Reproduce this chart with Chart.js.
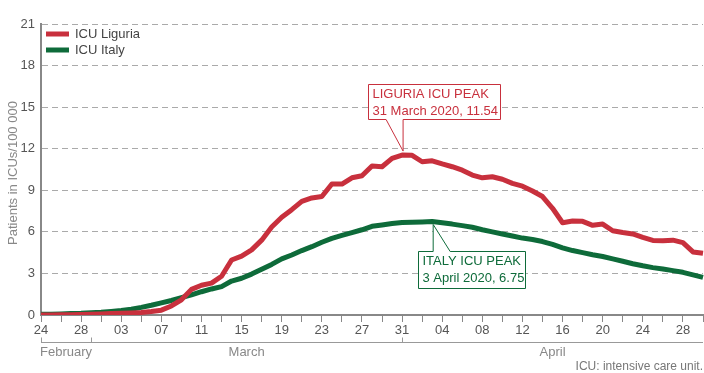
<!DOCTYPE html>
<html>
<head>
<meta charset="utf-8">
<script src="https://cdn.jsdelivr.net/npm/chart.js@4.4.1/dist/chart.umd.min.js"></script>
<style>
  html, body { margin: 0; padding: 0; background: #fff; }
  canvas { display: block; }
</style>
</head>
<body>
<canvas id="graficoIcu" width="704" height="373"></canvas>
<script>
// dias de 24 fev a 30 abr 2020
const inicio = Date.UTC(2020, 1, 24);
const numDias = 67;
const nomesMeses = ["January", "February", "March", "April"];

const icuLiguria = [
  0.0, 0.0, 0.01, 0.02, 0.04, 0.06, 0.08, 0.10, 0.12, 0.15,
  0.18, 0.25, 0.35, 0.65, 1.10, 1.85, 2.15, 2.30, 2.80, 3.97,
  4.25, 4.70, 5.40, 6.35, 7.05, 7.60, 8.20, 8.45, 8.55, 9.45,
  9.45, 9.90, 10.05, 10.75, 10.70, 11.30, 11.54, 11.52, 11.06, 11.13,
  10.90, 10.70, 10.45, 10.10, 9.90, 9.98, 9.80, 9.50, 9.30, 8.95,
  8.55, 7.70, 6.66, 6.78, 6.76, 6.47, 6.56, 6.08, 5.95, 5.85,
  5.60, 5.38, 5.36, 5.40, 5.22, 4.55, 4.45
];

const icuItalia = [
  0.05, 0.06, 0.08, 0.10, 0.12, 0.16, 0.20, 0.26, 0.33, 0.42,
  0.55, 0.70, 0.88, 1.05, 1.25, 1.45, 1.68, 1.88, 2.05, 2.45,
  2.65, 2.95, 3.30, 3.65, 4.05, 4.33, 4.65, 4.93, 5.25, 5.53,
  5.75, 5.95, 6.15, 6.40, 6.50, 6.60, 6.68, 6.70, 6.72, 6.75,
  6.65, 6.56, 6.45, 6.33, 6.15, 6.00, 5.85, 5.70, 5.55, 5.45,
  5.30, 5.10, 4.85, 4.65, 4.50, 4.35, 4.22, 4.05, 3.88, 3.70,
  3.55, 3.42, 3.32, 3.20, 3.08, 2.90, 2.72
];

const yTicks = [0, 3, 6, 9, 12, 15, 18, 21];
const tituloY = "Patients in ICUs/100 000";
const nota = "ICU: intensive care unit.";

const VERMELHO = "#c8303d";
const VERDE = "#0e6b3a";
const FONTE = '"Liberation Sans", Arial, sans-serif';

const datas = [];
for (let i = 0; i < numDias; i++) datas.push(new Date(inicio + i * 86400000));
const dias = datas.map(d => String(d.getUTCDate()).padStart(2, "0"));

function indicePico(serie) {
  let k = 0;
  serie.forEach((v, i) => { if (v > serie[k]) k = i; });
  return k;
}

function textoPico(serie) {
  const k = indicePico(serie);
  const d = datas[k];
  return d.getUTCDate() + " " + nomesMeses[d.getUTCMonth()] + " 2020, " + serie[k].toFixed(2);
}

// caixa com ponteiro ate o ponto do pico
function balao(ctx, cor, linhas, left, top, w, h, base1, base2, tip, emBaixo) {
  const right = left + w, bottom = top + h;
  ctx.save();
  ctx.beginPath();
  ctx.moveTo(left, top);
  if (!emBaixo) {
    ctx.lineTo(base1, top);
    ctx.lineTo(tip.x, tip.y);
    ctx.lineTo(base2, top);
  }
  ctx.lineTo(right, top);
  ctx.lineTo(right, bottom);
  if (emBaixo) {
    ctx.lineTo(base2, bottom);
    ctx.lineTo(tip.x, tip.y);
    ctx.lineTo(base1, bottom);
  }
  ctx.lineTo(left, bottom);
  ctx.closePath();
  ctx.fillStyle = "#fff";
  ctx.fill();
  ctx.strokeStyle = cor;
  ctx.lineWidth = 1;
  ctx.stroke();
  ctx.fillStyle = cor;
  ctx.font = "13px " + FONTE;
  ctx.textAlign = "left";
  ctx.textBaseline = "middle";
  ctx.fillText(linhas[0], left + 4, top + 10);
  ctx.fillText(linhas[1], left + 4, top + 27);
  ctx.restore();
}

const decoracoes = {
  id: "decoracoes",
  afterDatasetsDraw(chart) {
    const { ctx, scales: { x, y } } = chart;

    // pico Liguria
    const kL = indicePico(icuLiguria);
    const pxL = x.getPixelForValue(kL), pyL = y.getPixelForValue(icuLiguria[kL]);
    balao(ctx, VERMELHO, ["LIGURIA ICU PEAK", textoPico(icuLiguria)],
      Math.round(pxL) - 33.5, Math.round(pyL) - 70.5, 132, 35,
      pxL - 16, pxL + 1, { x: pxL + 1, y: pyL - 4 }, true);

    // pico Italia
    const kI = indicePico(icuItalia);
    const pxI = x.getPixelForValue(kI), pyI = y.getPixelForValue(icuItalia[kI]);
    balao(ctx, VERDE, ["ITALY ICU PEAK", textoPico(icuItalia)],
      Math.round(pxI) - 13.5, Math.round(pyI) + 30.5, 107, 37,
      pxI + 1, pxI + 18, { x: pxI + 1, y: pyI + 3 }, false);
  },
  afterDraw(chart) {
    const { ctx, chartArea, scales: { x } } = chart;
    ctx.save();

    // titulo do eixo y
    ctx.save();
    ctx.translate(13, 173);
    ctx.rotate(-Math.PI / 2);
    ctx.fillStyle = "#888";
    ctx.font = "13px " + FONTE;
    ctx.textAlign = "center";
    ctx.textBaseline = "middle";
    ctx.fillText(tituloY, 0, 0);
    ctx.restore();

    // legenda
    const legenda = [["ICU Liguria", VERMELHO], ["ICU Italy", VERDE]];
    ctx.font = "13px " + FONTE;
    ctx.textBaseline = "middle";
    ctx.textAlign = "left";
    legenda.forEach(([txt, cor], i) => {
      const yy = 34 + i * 16;
      ctx.strokeStyle = cor;
      ctx.lineWidth = 5;
      ctx.beginPath();
      ctx.moveTo(46, yy);
      ctx.lineTo(69, yy);
      ctx.stroke();
      ctx.fillStyle = "#444";
      ctx.fillText(txt, 75, yy);
    });

    // chaves dos meses
    const grupos = [];
    datas.forEach((d, i) => {
      const m = d.getUTCMonth();
      const g = grupos[grupos.length - 1];
      if (!g || g.mes !== m) grupos.push({ mes: m, ini: i, fim: i });
      else g.fim = i;
    });
    const yLinha = 342.5;
    ctx.strokeStyle = "#999";
    ctx.lineWidth = 1;
    ctx.beginPath();
    ctx.moveTo(chartArea.left, yLinha);
    ctx.lineTo(chartArea.right, yLinha);
    const marcas = [x.getPixelForValue(0)];
    grupos.slice(0, -1).forEach(g => marcas.push(x.getPixelForValue(g.fim)));
    marcas.forEach(px => {
      ctx.moveTo(Math.round(px) + 0.5, yLinha - 5);
      ctx.lineTo(Math.round(px) + 0.5, yLinha);
    });
    ctx.stroke();

    ctx.fillStyle = "#888";
    ctx.font = "13px " + FONTE;
    ctx.textAlign = "center";
    grupos.forEach((g, i) => {
      const a = marcas[i];
      const b = i + 1 < marcas.length ? marcas[i + 1] : chartArea.right;
      ctx.fillText(nomesMeses[g.mes], (a + b) / 2, 352);
    });

    // nota
    ctx.fillStyle = "#777";
    ctx.font = "12px " + FONTE;
    ctx.textAlign = "right";
    ctx.fillText(nota, 703, 367);
    ctx.restore();
  }
};

const ctx = document.getElementById("graficoIcu").getContext("2d");

new Chart(ctx, {
  type: "line",
  data: {
    labels: dias,
    datasets: [
      {
        label: "ICU Liguria",
        data: icuLiguria,
        borderColor: VERMELHO,
        borderWidth: 5,
        pointRadius: 0,
        borderJoinStyle: "round",
        tension: 0
      },
      {
        label: "ICU Italy",
        data: icuItalia,
        borderColor: VERDE,
        borderWidth: 5,
        pointRadius: 0,
        borderJoinStyle: "round",
        tension: 0
      }
    ]
  },
  options: {
    responsive: false,
    animation: false,
    devicePixelRatio: 1,
    layout: { padding: { top: 24, right: 1, bottom: 0, left: 0 } },
    plugins: {
      legend: { display: false },
      tooltip: { enabled: false }
    },
    scales: {
      x: {
        offset: false,
        afterFit: s => { s.height = 58; },
        grid: {
          drawOnChartArea: false,
          drawTicks: true,
          tickLength: 7,
          tickWidth: 1,
          tickColor: c => (c.index % 2 === 0 ? "#888" : "rgba(0,0,0,0)")
        },
        border: { display: true, color: "#888", width: 2 },
        ticks: {
          autoSkip: false,
          maxRotation: 0,
          padding: 1,
          color: "#555",
          font: { family: FONTE, size: 13 },
          callback: (v, i) => (i % 4 === 0 ? dias[i] : "")
        }
      },
      y: {
        min: yTicks[0],
        max: yTicks[yTicks.length - 1],
        afterFit: s => { s.width = 41; },
        afterBuildTicks: s => { s.ticks = yTicks.map(v => ({ value: v })); },
        grid: { color: "#aaa", lineWidth: 1, drawTicks: false },
        border: { display: true, color: "#888", width: 2, dash: [6, 4] },
        ticks: {
          padding: 6,
          color: "#555",
          font: { family: FONTE, size: 13 }
        }
      }
    }
  },
  plugins: [decoracoes]
});
</script>
</body>
</html>
